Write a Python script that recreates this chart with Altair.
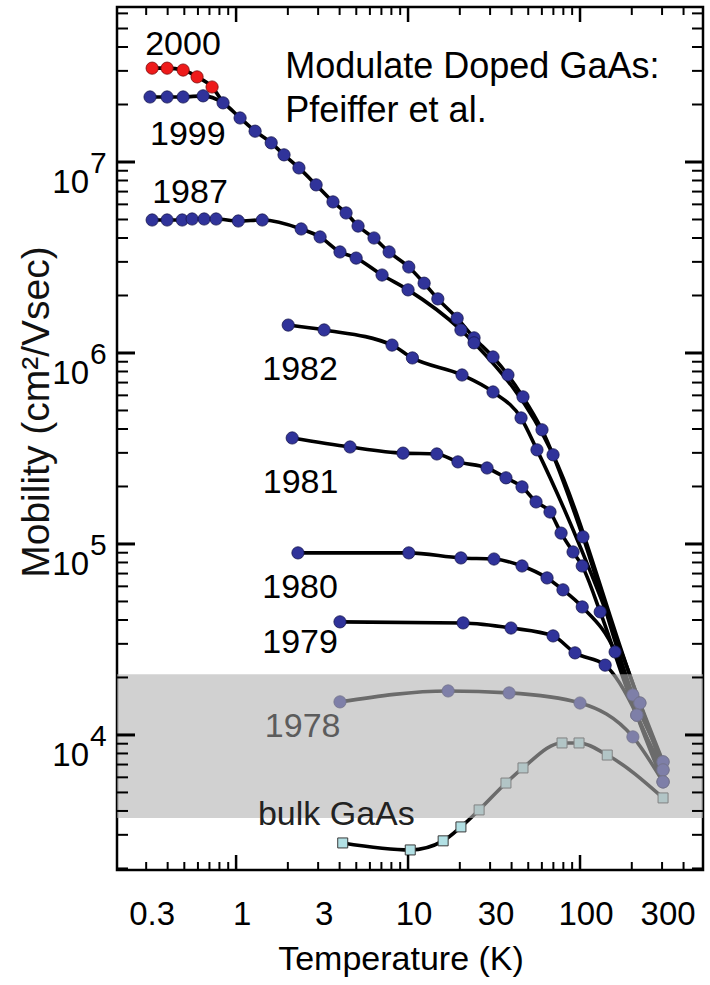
import altair as alt
import pandas as pd

# ---- measured mobility data: temperature (K) and mobility (cm^2/Vs) ----
t_2000 = [0.325, 0.397, 0.492, 0.593, 0.725]
mu_2000 = [3.10e7, 3.10e7, 3.03e7, 2.79e7, 2.47e7]

t_1999 = [0.316, 0.397, 0.492, 0.643, 0.840, 1.055, 1.29, 1.60, 1.90, 2.32, 2.92, 3.66, 4.36,
          5.12, 6.34, 7.76, 10.1, 12.4, 14.9, 19.3, 24.2, 31.2, 38.1, 46.6, 60.1, 104, 203, 304]
mu_1999 = [2.19e7, 2.19e7, 2.19e7, 2.22e7, 2.04e7, 1.70e7, 1.45e7, 1.26e7, 1.09e7, 9.31e6, 7.59e6,
           6.18e6, 5.41e6, 4.62e6, 4.00e6, 3.38e6, 2.82e6, 2.32e6, 1.92e6, 1.52e6, 1.20e6, 9.53e5,
           7.67e5, 5.89e5, 3.96e5, 1.09e5, 1.62e4, 7.23e3]

t_1987 = [0.325, 0.397, 0.486, 0.555, 0.652, 0.765, 1.03, 1.42, 2.39, 3.08, 4.02, 4.99, 7.06,
          10.0, 20.3, 24.2, 69.7, 223, 304]
mu_1987 = [4.97e6, 4.97e6, 4.97e6, 5.03e6, 5.03e6, 5.03e6, 4.91e6, 4.97e6, 4.46e6, 4.05e6, 3.38e6,
           3.14e6, 2.56e6, 2.14e6, 1.32e6, 1.13e6, 2.93e5, 1.47e4, 7.23e3]

t_1982 = [2.01, 3.25, 8.07, 10.6, 20.6, 31.2, 45.4, 56.2, 223, 304]
mu_1982 = [1.40e6, 1.32e6, 1.10e6, 9.42e5, 7.67e5, 6.25e5, 4.57e5, 3.11e5, 1.47e4, 6.56e3]

t_1981 = [2.12, 4.60, 9.35, 14.7, 19.5, 28.8, 37.1, 46.0, 55.5, 66.9, 77.6, 91.1, 103, 131, 214, 304]
mu_1981 = [3.59e5, 3.22e5, 2.99e5, 2.96e5, 2.69e5, 2.50e5, 2.22e5, 1.99e5, 1.66e5, 1.47e5, 1.14e5,
           9.08e4, 7.67e4, 4.41e4, 1.27e4, 6.56e3]

t_1980 = [2.29, 10.1, 20.3, 31.6, 46.0, 64.3, 79.6, 103, 160, 214, 304]
mu_1980 = [8.98e4, 8.98e4, 8.45e4, 8.34e4, 7.67e4, 6.64e4, 5.75e4, 4.68e4, 2.72e4, 1.27e4, 5.68e3]

t_1979 = [4.02, 20.9, 39.7, 69.7, 93.5, 140, 214, 304]
mu_1979 = [3.91e4, 3.86e4, 3.63e4, 3.30e4, 2.69e4, 2.32e4, 1.27e4, 5.68e3]

t_1978 = [4.02, 17.1, 38.7, 100, 203, 304]
mu_1978 = [1.49e4, 1.70e4, 1.66e4, 1.47e4, 9.77e3, 5.68e3]

t_bulk = [4.17, 10.3, 16.0, 20.3, 25.9, 37.1, 46.6, 78.6, 98.7, 144, 304]
mu_bulk = [2720, 2500, 2790, 3300, 4050, 5600, 6720, 9080, 9080, 7850, 4680]

# the 2000 curve joins the 1999 curve at this point
join_2000 = (0.840, 2.04e7)

# curve labels: text, temperature, mobility (left edge / baseline)
label_text = ["2000", "1999", "1987", "1982", "1981", "1980", "1979", "1978", "bulk GaAs"]
label_t = [0.296, 0.316, 0.325, 1.42, 1.43, 1.42, 1.42, 1.47, 1.34]
label_mu = [3.63e7, 1.23e7, 6.10e6, 7.23e5, 1.85e5, 5.21e4, 2.68e4, 9.77e3, 3.38e3]
label_color = ["black"] * 7 + ["#5c5c5c", "#222222"]

# shaded mobility band
band_lo, band_hi = 3670, 20800

# axes
x_tick_values = [0.3, 1, 3, 10, 30, 100, 300]
x_tick_labels = ["0.3", "1", "3", "10", "30", "100", "300"]
x_major = [1, 10, 100]
x_minor = [0.3, 0.4, 0.5, 0.6, 0.7, 0.8, 0.9, 2, 3, 4, 5, 6, 7, 8, 9,
           20, 30, 40, 50, 60, 70, 80, 90, 200, 300, 400]
y_major = [1e4, 1e5, 1e6, 1e7]
y_exponents = ["4", "5", "6", "7"]
y_minor = [m * 10 ** e for e in range(3, 8) for m in range(2, 10) if m * 10 ** e < 6.5e7]

W, H = 586, 863
BLUE = "#30339a"
RED = "#ee1a1a"
SANS = "Liberation Sans, Arial, Helvetica, sans-serif"

xs = alt.Scale(type="log", domain=[0.203, 519])
ys = alt.Scale(type="log", domain=[1963, 6.48e7])
X = alt.X("t:Q", scale=xs, axis=None)
Y = alt.Y("mu:Q", scale=ys, axis=None)


def frame(name, ts, mus):
    return pd.DataFrame({"series": name, "t": ts, "mu": mus})


blue_df = pd.concat([
    frame("1999", t_1999, mu_1999), frame("1987", t_1987, mu_1987),
    frame("1982", t_1982, mu_1982), frame("1981", t_1981, mu_1981),
    frame("1980", t_1980, mu_1980), frame("1979", t_1979, mu_1979),
    frame("1978", t_1978, mu_1978),
])
red_df = frame("2000", t_2000, mu_2000)
bulk_df = frame("bulk", t_bulk, mu_bulk)
line_df = pd.concat([
    blue_df, bulk_df,
    frame("2000", t_2000 + [join_2000[0]], mu_2000 + [join_2000[1]]),
])

lines = alt.Chart(line_df).mark_line(
    color="black", strokeWidth=3.6, interpolate="monotone"
).encode(x=X, y=Y, detail="series:N")

blue_pts = alt.Chart(blue_df).mark_circle(
    size=150, color=BLUE, opacity=1, stroke="#16164f", strokeWidth=0.8
).encode(x=X, y=Y)

red_pts = alt.Chart(red_df).mark_circle(
    size=150, color=RED, opacity=1, stroke="#7a0a0a", strokeWidth=0.8
).encode(x=X, y=Y)

bulk_pts = alt.Chart(bulk_df).mark_square(
    size=100, color="#b2e0e4", opacity=1, stroke="#3a3a3a", strokeWidth=1
).encode(x=X, y=Y)

band = alt.Chart(pd.DataFrame({"lo": [band_lo], "hi": [band_hi]})).mark_rect(
    color="#b3b3b3", opacity=0.6
).encode(y=alt.Y("lo:Q", scale=ys, axis=None), y2="hi:Q",
         x=alt.value(0), x2=alt.value(W))

labels = alt.Chart(pd.DataFrame({
    "text": label_text, "t": label_t, "mu": label_mu, "c": label_color
})).mark_text(
    font=SANS, fontSize=34, align="left", baseline="alphabetic"
).encode(x=X, y=Y, text="text:N", color=alt.Color("c:N", scale=None))

note = alt.Chart(pd.DataFrame({
    "text": ["Modulate Doped GaAs:", "Pfeiffer et al."], "t": [1.93, 1.93], "mu": [2.75e7, 1.62e7]
})).mark_text(
    font=SANS, fontSize=36, align="left", baseline="alphabetic", color="black"
).encode(x=X, y=Y, text="text:N")

# inward ticks on all four sides
xmin_df = pd.DataFrame({"t": x_minor})
xmaj_df = pd.DataFrame({"t": x_major})
ymin_df = pd.DataFrame({"mu": y_minor})
ymaj_df = pd.DataFrame({"mu": y_major})

tick_layers = [
    alt.Chart(xmin_df).mark_rule(color="black", strokeWidth=2).encode(x=X, y=alt.value(H), y2=alt.value(H - 8)),
    alt.Chart(xmin_df).mark_rule(color="black", strokeWidth=2).encode(x=X, y=alt.value(0), y2=alt.value(8)),
    alt.Chart(xmaj_df).mark_rule(color="black", strokeWidth=2.5).encode(x=X, y=alt.value(H), y2=alt.value(H - 15)),
    alt.Chart(xmaj_df).mark_rule(color="black", strokeWidth=2.5).encode(x=X, y=alt.value(0), y2=alt.value(15)),
    alt.Chart(ymin_df).mark_rule(color="black", strokeWidth=2).encode(y=Y, x=alt.value(0), x2=alt.value(11)),
    alt.Chart(ymin_df).mark_rule(color="black", strokeWidth=2).encode(y=Y, x=alt.value(W), x2=alt.value(W - 11)),
    alt.Chart(ymaj_df).mark_rule(color="black", strokeWidth=3).encode(y=Y, x=alt.value(0), x2=alt.value(18)),
    alt.Chart(ymaj_df).mark_rule(color="black", strokeWidth=3).encode(y=Y, x=alt.value(W), x2=alt.value(W - 18)),
]

# tick labels
x_lab = alt.Chart(pd.DataFrame({"t": x_tick_values, "lab": x_tick_labels})).mark_text(
    font=SANS, fontSize=33, align="center", baseline="alphabetic", dx=6, color="black"
).encode(x=X, y=alt.value(H + 55), text="lab:N")

y_df = pd.DataFrame({"mu": y_major, "exp": y_exponents, "base": ["10"] * 4})
y_base = alt.Chart(y_df).mark_text(
    font=SANS, fontSize=33, align="right", baseline="alphabetic", dy=31, color="black"
).encode(y=Y, x=alt.value(-28), text="base:N")
y_exp = alt.Chart(y_df).mark_text(
    font=SANS, fontSize=30, align="left", baseline="alphabetic", dy=11, color="black"
).encode(y=Y, x=alt.value(-27), text="exp:N")

x_title = alt.Chart(pd.DataFrame({"s": ["Temperature (K)"]})).mark_text(
    font=SANS, fontSize=34, align="center", baseline="alphabetic", color="black"
).encode(x=alt.value(284), y=alt.value(H + 100), text="s:N")

y_title = alt.Chart(pd.DataFrame({"s": ["Mobility (cm²/Vsec)"]})).mark_text(
    font=SANS, fontSize=39, align="center", baseline="middle", angle=270, color="#111111"
).encode(x=alt.value(-80), y=alt.value(405), text="s:N")

chart = alt.layer(
    lines, bulk_pts, blue_pts, red_pts, band, labels, note,
    *tick_layers, x_lab, y_base, y_exp, x_title, y_title,
).properties(
    width=W, height=H,
    padding={"left": 117, "top": 7, "right": 7, "bottom": 115},
    autosize=alt.AutoSizeParams(type="none"),
    background="white",
).configure_view(stroke="black", strokeWidth=2.5)

chart.save("out.html", embed_options={"renderer": "svg", "actions": False})
